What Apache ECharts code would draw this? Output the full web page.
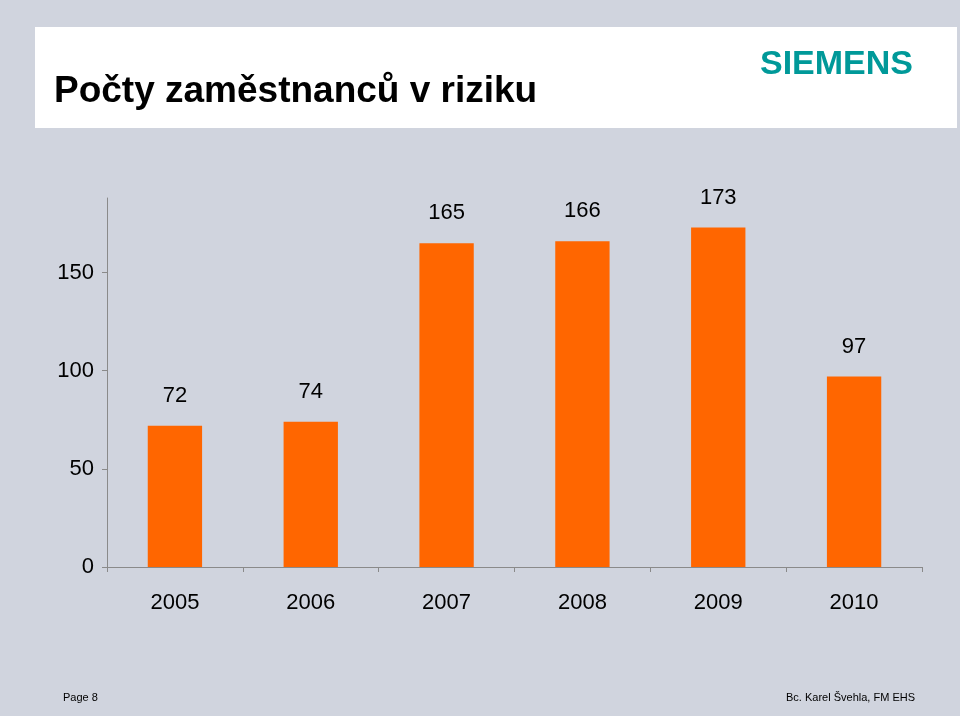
<!DOCTYPE html>
<html>
<head>
<meta charset="utf-8">
<script src="https://cdn.jsdelivr.net/npm/echarts@6/dist/echarts.min.js"></script>
<style>
html,body{margin:0;padding:0;background:#D0D4DE;}
#c{width:960px;height:716px;}
</style>
</head>
<body>
<div id="c"></div>
<script>
var categories = ['2005', '2006', '2007', '2008', '2009', '2010'];
var values = [72, 74, 165, 166, 173, 97];
var yTicks = [0, 50, 100, 150];
var titleText = 'Počty zaměstnanců v riziku';
var logoText = 'SIEMENS';
var footerLeft = 'Page 8';
var footerRight = 'Bc. Karel Švehla, FM EHS';

var sans = "'Liberation Sans', Arial, sans-serif";
var chart = echarts.init(document.getElementById('c'));
chart.setOption({
  backgroundColor: '#D0D4DE',
  animation: false,
  graphic: [
    { type: 'rect', left: 35, top: 27, shape: { width: 922, height: 101 }, style: { fill: '#FFFFFF' }, z: 0 },
    { type: 'text', left: 54, top: 73, style: { text: titleText, font: "bold 37px " + sans, fill: '#000000' } },
    { type: 'text', left: 760, top: 48, style: { text: logoText, font: "bold 34px " + sans, fill: '#009999' } },
    { type: 'text', left: 63, top: 692, style: { text: footerLeft, font: "11px " + sans, fill: '#000000' } },
    { type: 'text', right: 45, top: 692, style: { text: footerRight, font: "11px " + sans, fill: '#000000' } }
  ],
  grid: { left: 107, right: 38, top: 198, bottom: 149, containLabel: false },
  xAxis: {
    type: 'category',
    data: categories,
    axisLine: { lineStyle: { color: '#8A8A8A', width: 1 } },
    axisTick: { show: true, length: 5, lineStyle: { color: '#8A8A8A' } },
    axisLabel: { color: '#000000', fontSize: 22, fontFamily: sans, margin: 25 }
  },
  yAxis: {
    type: 'value',
    min: 0,
    max: 188,
    interval: 50,
    splitLine: { show: false },
    axisLine: { show: true, lineStyle: { color: '#8A8A8A', width: 1 } },
    axisTick: { show: true, length: 5, lineStyle: { color: '#8A8A8A' }, customValues: yTicks },
    axisLabel: { color: '#000000', fontSize: 22, fontFamily: sans, margin: 13, customValues: yTicks }
  },
  series: [{
    type: 'bar',
    data: values,
    barWidth: '40%',
    itemStyle: { color: '#FF6600' },
    label: { show: true, position: 'top', distance: 19, color: '#000000', fontSize: 22, fontFamily: sans }
  }]
});
</script>
</body>
</html>
